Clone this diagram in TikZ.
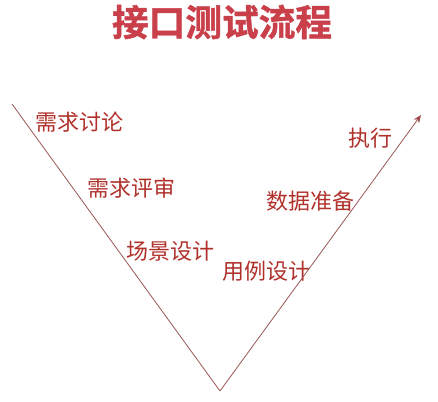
\documentclass[tikz,border=0pt]{standalone}
\usepackage{fontspec}
\usetikzlibrary{arrows.meta}
\newfontfamily\cjk{Noto Sans CJK SC}
\newfontfamily\cjkbold[FakeBold=1.2]{Noto Sans CJK SC Bold}
\definecolor{titlered}{HTML}{C9404B}
\definecolor{labelred}{HTML}{B0302A}
\definecolor{vline}{HTML}{9A5555}
\tikzset{
  step label/.style={text=labelred, font=\cjk\fontsize{16.5}{18}\selectfont, inner sep=0pt},
  vee/.style={draw=vline, line width=0.6pt}
}
\begin{document}
\begin{tikzpicture}[x=0.75pt,y=-0.75pt]
      \useasboundingbox (0,0) rectangle (438,401);
      \draw
        (222,22) node (title)[text=titlered, font=\cjkbold\fontsize{27.5}{30}\selectfont]{接口测试流程}
        (79,122) node (talk)[step label]{需求讨论}
        (131,188) node (review)[step label]{需求评审}
        (170,251) node (scene)[step label]{场景设计}
        (266,271) node (case)[step label]{用例设计}
        (310,201) node (data)[step label]{数据准备}
        (370,138) node (run)[step label]{执行};
      \coordinate (start) at (12,104);
      \coordinate (bottom) at (220,391);
      \coordinate (tip) at (421,115);
      \begin{scope}[vee]
        \draw (start) to (bottom);
        \draw[-{Stealth[length=6pt,width=5pt,fill=labelred]}] (bottom) to (tip);
      \end{scope}
    \end{tikzpicture}
\end{document}
